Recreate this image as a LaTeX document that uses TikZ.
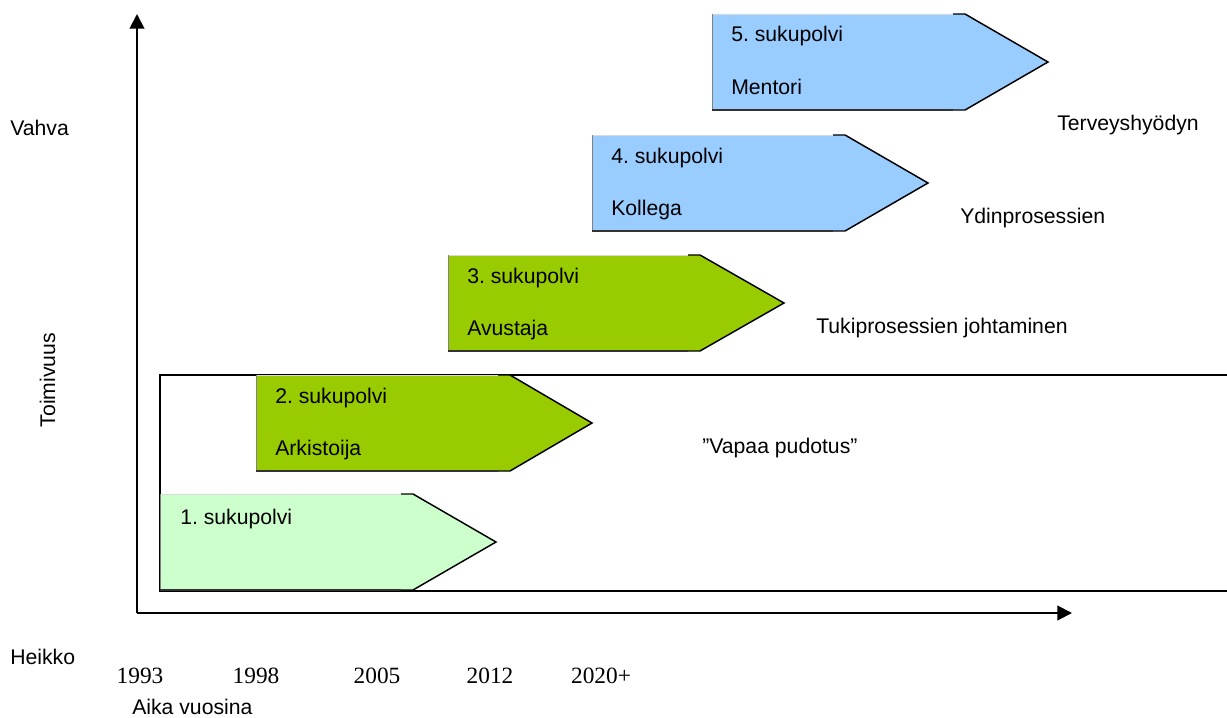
\documentclass[tikz,border=0pt]{standalone}
\usepackage{fontspec}
\setmainfont{Liberation Sans}
\newfontfamily\yearfont{Liberation Serif}
\usetikzlibrary{arrows.meta}
\frenchspacing
\definecolor{gen1}{HTML}{CCFFCC}
\definecolor{gen2}{HTML}{99CC00}
\definecolor{gen4}{HTML}{99CCFF}
\newcommand\genshape[5]{%
  \fill[#5] (#1,#4) -- (#2,#4) -- (#3,{#4+48}) -- (#2,{#4+96}) -- (#1,{#4+96}) -- cycle;
  \draw[black!15,line width=0.5pt] (#1,#4) -- ({#2-12},#4);
  \draw[black!50,line width=0.6pt] (#1,#4) -- (#1,{#4+96});
  \draw[black!80,line width=0.8pt] (#1,{#4+96}) -- ({#2-12},{#4+96});
  \draw[black,line width=1.1pt,line join=miter] ({#2-12},#4) -- (#2,#4) -- (#3,{#4+48}) -- (#2,{#4+96}) -- ({#2-12},{#4+96});
}
\tikzset{
  lbl/.style={anchor=base west,inner sep=0pt,font=\frenchspacing\fontsize{15.9pt}{18pt}\selectfont},
  yr/.style={anchor=base,inner sep=0pt,font=\yearfont\fontsize{17.5pt}{19pt}\selectfont},
  axis/.style={line width=1.5pt,-{Triangle[length=11pt,width=11pt]}}
}
\begin{document}
\begin{tikzpicture}[x=0.75pt,y=-0.75pt]
\useasboundingbox (0,0) rectangle (1227,717);
% axes
\coordinate (origin) at (137,613);
\coordinate (ytop) at (137,14);
\coordinate (xend) at (1072,613);
\draw[axis] (origin) -- (ytop);
\draw[axis] (origin) -- (xend);
% big frame
\draw[line width=1.5pt] (1227,375) -- (160,375) -- (160,591) -- (1227,591);
% generation shapes
\genshape{160}{413}{496}{494}{gen1}
\genshape{256}{510}{592}{375}{gen2}
\genshape{448}{700}{784}{255}{gen2}
\genshape{592}{845}{928}{135}{gen4}
\genshape{712}{965}{1048}{14}{gen4}
% shape texts
\node[lbl] (g1a) at (180,524) {1. sukupolvi};
\node[lbl] (g2a) at (275,403) {2. sukupolvi};
\node[lbl] (g2b) at (275,455) {Arkistoija};
\node[lbl] (g3a) at (467,283) {3. sukupolvi};
\node[lbl] (g3b) at (467,335) {Avustaja};
\node[lbl] (g4a) at (611,163) {4. sukupolvi};
\node[lbl] (g4b) at (611,215) {Kollega};
\node[lbl] (g5a) at (731,42) {5. sukupolvi};
\node[lbl] (g5b) at (731,94) {Mentori};
% side texts
\node[lbl] (t5) at (1057,130) {Terveyshyödyn};
\node[lbl] (t4) at (960,223) {Ydinprosessien};
\node[lbl] (t3) at (816,333) {Tukiprosessien johtaminen};
\node[lbl] (t2) at (702,453) {”Vapaa pudotus”};
% axis texts
\node[lbl] (vahva) at (10,135) {Vahva};
\node[lbl] (heikko) at (10,664) {Heikko};
\node[lbl,anchor=base,rotate=90] (toim) at (55,380) {Toimivuus};
\node[lbl] (aika) at (132,714) {Aika vuosina};
\node[yr] (y1) at (140,683) {1993};
\node[yr] (y2) at (256,683) {1998};
\node[yr] (y3) at (377,683) {2005};
\node[yr] (y4) at (490,683) {2012};
\node[yr] (y5) at (601,683) {2020+};
\end{tikzpicture}
\end{document}
